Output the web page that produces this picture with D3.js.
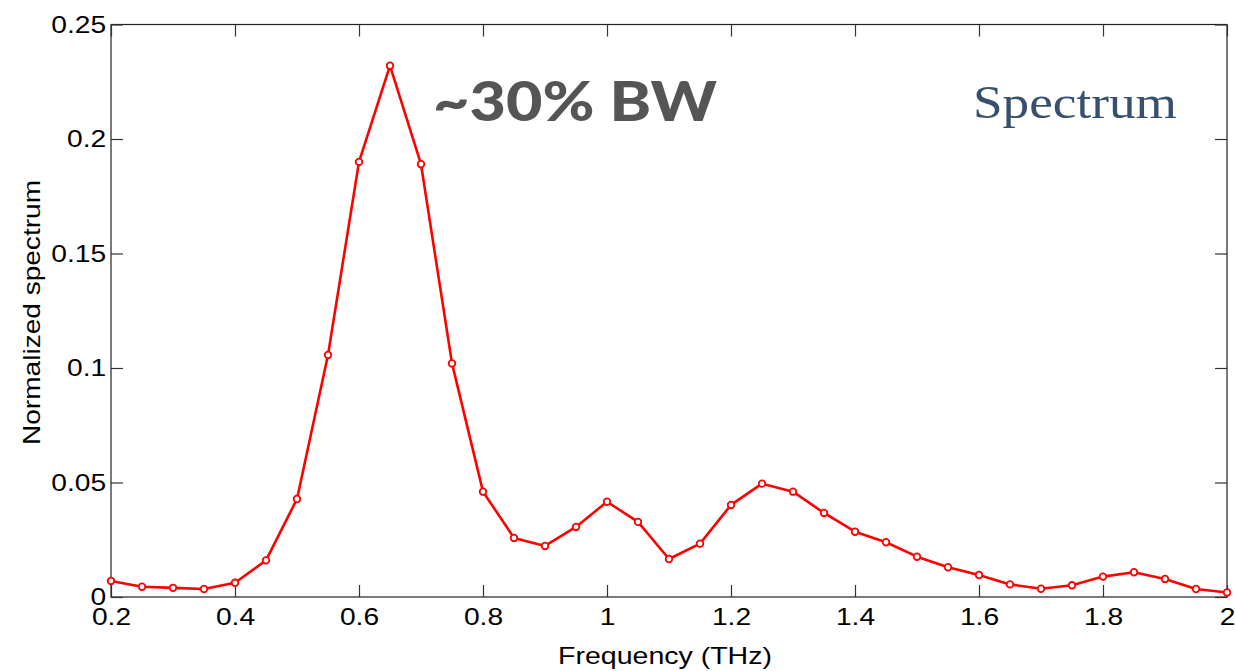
<!DOCTYPE html>
<html>
<head>
<meta charset="utf-8">
<script src="https://cdn.jsdelivr.net/npm/d3@7"></script>
<style>
  html, body { margin: 0; padding: 0; background: #fff; }
  svg { display: block; }
</style>
</head>
<body>
<svg id="chart" width="1236" height="671"></svg>
<script>
// Frequency samples (THz) and the normalized spectrum at each one
const frequency = [0.2, 0.25, 0.3, 0.35, 0.4, 0.45, 0.5, 0.55, 0.6, 0.65, 0.7, 0.75, 0.8, 0.85, 0.9, 0.95,
  1.0, 1.05, 1.1, 1.15, 1.2, 1.25, 1.3, 1.35, 1.4, 1.45, 1.5, 1.55, 1.6, 1.65, 1.7, 1.75, 1.8, 1.85, 1.9, 1.95, 2.0];
const spectrum = [0.0070, 0.0045, 0.0040, 0.0035, 0.0062, 0.0160, 0.0428, 0.1057, 0.1900, 0.2320, 0.1890, 0.1020,
  0.0460, 0.0258, 0.0223, 0.0306, 0.0416, 0.0328, 0.0166, 0.0233, 0.0402, 0.0495, 0.0460, 0.0367,
  0.0285, 0.0239, 0.0176, 0.0130, 0.0096, 0.0055, 0.0036, 0.0051, 0.0089, 0.0108, 0.0079, 0.0035, 0.0020];
const xTicks = [0.2, 0.4, 0.6, 0.8, 1.0, 1.2, 1.4, 1.6, 1.8, 2.0];
const yTicks = [0, 0.05, 0.1, 0.15, 0.2, 0.25];

const svg = d3.select("#chart");
const margin = { left: 111, right: 9, top: 24.5, bottom: 74 };
const W = 1236, H = 671;
const x = d3.scaleLinear().domain([0.2, 2.0]).range([margin.left, W - margin.right]);
const y = d3.scaleLinear().domain([0, 0.25]).range([H - margin.bottom, margin.top]);
const tickFont = "'Liberation Sans', Arial, Helvetica, sans-serif";
const fmt = d => d3.format("")(+d.toFixed(2));

// Plot frame
svg.append("rect")
  .attr("x", x(0.2)).attr("y", y(0.25))
  .attr("width", x(2.0) - x(0.2)).attr("height", y(0) - y(0.25))
  .attr("fill", "none").attr("stroke", "#222").attr("stroke-width", 1.2);

// Axes with inward ticks on all four sides; labels use a slightly wide face
const tl = 12;
function styleAxis(g) {
  g.select(".domain").remove();
  g.selectAll(".tick line").attr("stroke", "#333").attr("stroke-width", 1.2);
  g.selectAll("text").attr("fill", "#000")
    .style("font-family", tickFont).style("font-size", "23.5px")
    .attr("transform", "scale(1.2,1)");
}
svg.append("g").attr("transform", `translate(0,${y(0)})`)
  .call(d3.axisBottom(x).tickValues(xTicks).tickFormat(fmt).tickSizeInner(-tl).tickPadding(11))
  .call(styleAxis)
  .selectAll("text").attr("dy", "0.71em");
svg.append("g").attr("transform", `translate(0,${y(0.25)})`)
  .call(d3.axisTop(x).tickValues(xTicks).tickFormat("").tickSizeInner(-tl))
  .call(styleAxis);
svg.append("g").attr("transform", `translate(${x(0.2)},0)`)
  .call(d3.axisLeft(y).tickValues(yTicks).tickFormat(fmt).tickSizeInner(-tl).tickPadding(4))
  .call(styleAxis);
svg.append("g").attr("transform", `translate(${x(2.0)},0)`)
  .call(d3.axisRight(y).tickValues(yTicks).tickFormat("").tickSizeInner(-tl))
  .call(styleAxis);

// Axis titles
svg.append("text")
  .attr("x", 558).attr("y", 664)
  .attr("textLength", 214).attr("lengthAdjust", "spacingAndGlyphs")
  .style("font-family", tickFont).style("font-size", "24px")
  .text("Frequency (THz)");
svg.append("text")
  .attr("transform", "translate(40,445) rotate(-90)")
  .attr("textLength", 265).attr("lengthAdjust", "spacingAndGlyphs")
  .style("font-family", tickFont).style("font-size", "24px")
  .text("Normalized spectrum");

// Spectrum curve
const pts = frequency.map((f, i) => [f, spectrum[i]]);
svg.append("path")
  .datum(pts)
  .attr("fill", "none").attr("stroke", "#ff0000").attr("stroke-width", 2.6)
  .attr("stroke-linejoin", "round")
  .attr("d", d3.line().x(d => x(d[0])).y(d => y(d[1])));
svg.append("g").selectAll("circle")
  .data(pts).join("circle")
  .attr("cx", d => x(d[0])).attr("cy", d => y(d[1])).attr("r", 3.3)
  .attr("fill", "#fff").attr("stroke", "#ff0000").attr("stroke-width", 1.8);

// Annotations
svg.append("text")
  .attr("x", 433).attr("y", 121)
  .attr("textLength", 284).attr("lengthAdjust", "spacingAndGlyphs")
  .style("font-family", "Lato, 'Open Sans', sans-serif").style("font-weight", 900)
  .style("font-size", "56px").attr("fill", "#555555")
  .text("~30% BW");
svg.append("text")
  .attr("x", 973).attr("y", 118)
  .attr("textLength", 204).attr("lengthAdjust", "spacingAndGlyphs")
  .style("font-family", "'Liberation Serif', 'DejaVu Serif', serif")
  .style("font-size", "46px").attr("fill", "#38506f")
  .text("Spectrum");
</script>
</body>
</html>
